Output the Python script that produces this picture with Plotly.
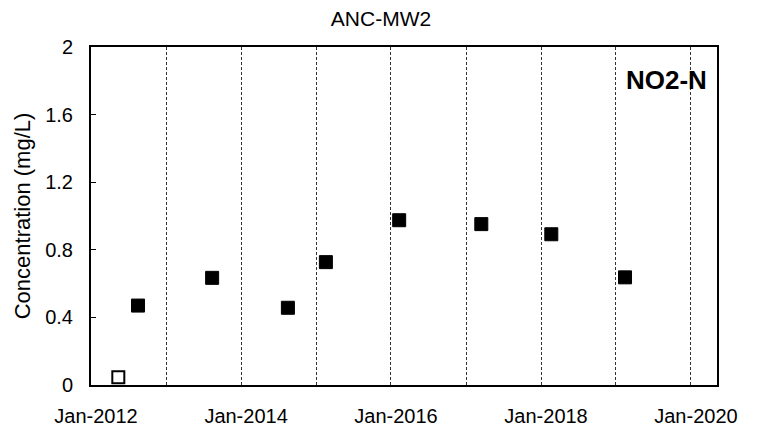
import plotly.graph_objects as go

# Data
detect_dates = ["2012-08-17", "2013-08-13", "2014-08-17", "2015-02-18", "2016-02-10",
                "2017-03-16", "2018-02-20", "2019-02-14"]
detect_values = [0.47, 0.634, 0.457, 0.727, 0.975, 0.952, 0.892, 0.637]
nondetect_dates = ["2012-05-13"]
nondetect_values = [0.046]
y_ticks = [0, 0.4, 0.8, 1.2, 1.6, 2]
y_tick_labels = ["0", "0.4", "0.8", "1.2", "1.6", "2"]
x_tick_dates = ["2012-01-01", "2014-01-01", "2016-01-01", "2018-01-01", "2020-01-01"]
x_tick_labels = ["Jan-2012", "Jan-2014", "Jan-2016", "Jan-2018", "Jan-2020"]
x_minor_dates = ["2013-01-01", "2015-01-01", "2017-01-01", "2019-01-01"]

FONT = "Arial, Liberation Sans, sans-serif"
GRID = "#333333"

fig = go.Figure()
fig.add_trace(go.Scatter(
    x=nondetect_dates, y=nondetect_values, mode="markers",
    marker=dict(symbol="square", size=12, color="white", line=dict(color="black", width=2)),
    showlegend=False, cliponaxis=False))
fig.add_trace(go.Scatter(
    x=detect_dates, y=detect_values, mode="markers",
    marker=dict(symbol="square", size=13, color="black", line=dict(color="black", width=1)),
    showlegend=False, cliponaxis=False))

fig.update_layout(
    width=759, height=435,
    margin=dict(l=91, r=42, t=47, b=50, autoexpand=False),
    paper_bgcolor="white", plot_bgcolor="white",
    font=dict(family=FONT, color="black"),
    title=dict(text="ANC-MW2", x=(381 - 91) / 626, xref="paper", xanchor="center",
               y=1 - 19 / 435, yanchor="middle",
               font=dict(size=21, family=FONT, color="black")),
    annotations=[dict(text="<b>NO2-N</b>", xref="paper", yref="paper",
                      x=(709 - 91) / 626, y=(385 - 80) / 338, xanchor="right", yanchor="middle",
                      showarrow=False, font=dict(size=26, family=FONT, color="black"))],
)

fig.update_xaxes(
    type="date", range=["2012-01-01", "2020-05-07"], automargin=False,
    tickmode="array", tickvals=x_tick_dates, ticktext=x_tick_labels,
    ticks="", tickfont=dict(size=20, family=FONT, color="black"),
    ticklabelshift=5, ticklabelstandoff=12,
    showgrid=True, gridcolor=GRID, griddash="3px,2px", gridwidth=1,
    minor=dict(tickmode="array", tickvals=x_minor_dates,
               showgrid=True, gridcolor=GRID, griddash="3px,2px", gridwidth=1, ticks=""),
    showline=True, linecolor="black", linewidth=2, mirror=True, zeroline=False,
)
fig.update_yaxes(
    range=[0, 2], tickmode="array", tickvals=y_ticks, ticktext=y_tick_labels, automargin=False,
    ticks="inside", ticklen=5, tickcolor="black", tickwidth=1,
    tickfont=dict(size=20, family=FONT, color="black"),
    ticklabelstandoff=12,
    showgrid=False, zeroline=False,
    showline=True, linecolor="black", linewidth=2, mirror=True,
    title=dict(text="Concentration (mg/L)", font=dict(size=22, family=FONT, color="black"), standoff=8),
)

fig.write_html("out.html", post_script="document.body.style.margin='0';",
               config={"displayModeBar": False})
